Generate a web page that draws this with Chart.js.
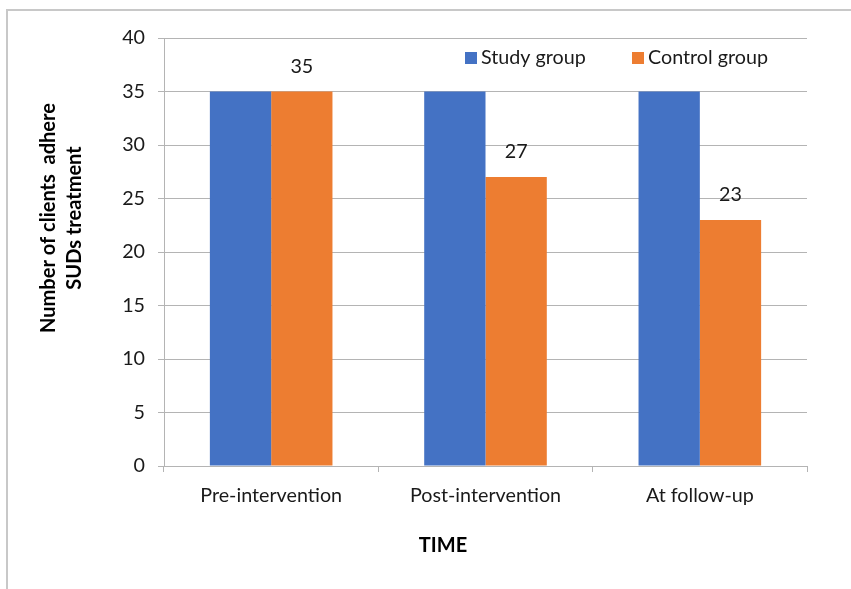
<!DOCTYPE html>
<html>
<head>
<meta charset="utf-8">
<script src="https://cdn.jsdelivr.net/npm/chart.js@4/dist/chart.umd.min.js"></script>
<style>
html,body{margin:0;padding:0;background:#fff;}
canvas{display:block;}
</style>
</head>
<body>
<canvas id="c" width="851" height="589"></canvas>
<script>
const categories = ['Pre-intervention', 'Post-intervention', 'At follow-up'];
const studyGroup = [35, 35, 35];
const controlGroup = [35, 27, 23];
const seriesNames = ['Study group', 'Control group'];
const yTitleLines = ['Number of clients  adhere', 'SUDs treatment'];
const xTitle = 'TIME';

const FONT = 'Lato, "Open Sans", sans-serif';
const mctx = document.createElement('canvas').getContext('2d');
function fitSize(text, target, weight) {
  mctx.font = weight + ' 20px ' + FONT;
  return 20 * target / mctx.measureText(text).width;
}
const baseSize = fitSize('Pre-intervention', 142, 'normal');
const boldSize = fitSize('Number of clients  adhere', 230, 'bold');
const TEXT = '#1a1a1a';
const GRID = '#b4b4b4';

const decorPlugin = {
  id: 'decor',
  beforeDraw(chart) {
    const ctx = chart.ctx;
    ctx.save();
    ctx.fillStyle = '#fff';
    ctx.fillRect(0, 0, chart.width, chart.height);
    ctx.strokeStyle = '#c8c8c8';
    ctx.lineWidth = 2;
    ctx.beginPath();
    ctx.moveTo(7, chart.height);
    ctx.lineTo(7, 10);
    ctx.lineTo(chart.width, 10);
    ctx.stroke();
    ctx.restore();
  },
  afterDatasetsDraw(chart) {
    const ctx = chart.ctx;
    ctx.save();
    // data labels for control group
    const meta = chart.getDatasetMeta(1);
    ctx.font = 'normal ' + baseSize + 'px ' + FONT;
    ctx.fillStyle = TEXT;
    ctx.textAlign = 'center';
    ctx.textBaseline = 'middle';
    meta.data.forEach((el, i) => {
      ctx.fillText(String(chart.data.datasets[1].data[i]), el.x, el.y - 25);
    });
    // legend
    const legendX = [465, 632];
    chart.data.datasets.forEach((ds, i) => {
      ctx.fillStyle = ds.backgroundColor;
      ctx.fillRect(legendX[i], 52, 12, 12);
      ctx.fillStyle = TEXT;
      ctx.textAlign = 'left';
      ctx.fillText(ds.label, legendX[i] + 16, 58);
    });
    // axis titles
    ctx.font = 'bold ' + boldSize + 'px ' + FONT;
    ctx.fillStyle = '#000';
    ctx.textAlign = 'center';
    ctx.fillText(xTitle, 443, 546);
    ctx.translate(62, 218);
    ctx.rotate(-Math.PI / 2);
    ctx.fillText(yTitleLines[0], 0, -13);
    ctx.fillText(yTitleLines[1], 0, 13);
    ctx.restore();
  }
};

new Chart(document.getElementById('c'), {
  type: 'bar',
  data: {
    labels: categories,
    datasets: [
      { label: seriesNames[0], data: studyGroup, backgroundColor: '#4472C4', borderWidth: 0 },
      { label: seriesNames[1], data: controlGroup, backgroundColor: '#ED7D31', borderWidth: 0 }
    ]
  },
  options: {
    responsive: false,
    animation: false,
    devicePixelRatio: 1,
    layout: { padding: { left: 0, top: 38, right: 44, bottom: 0 } },
    plugins: { legend: { display: false }, tooltip: { enabled: false }, title: { display: false } },
    datasets: { bar: { categoryPercentage: 0.572, barPercentage: 1.0 } },
    scales: {
      x: {
        afterFit(s) { s.height = 123; },
        grid: { offset: true, drawOnChartArea: false, drawTicks: true, tickLength: 6, color: GRID },
        border: { color: GRID, width: 1 },
        ticks: { padding: 12, color: TEXT, font: { family: FONT, size: baseSize } }
      },
      y: {
        min: 0, max: 40,
        afterFit(s) { s.width = 164; },
        grid: { color: GRID, tickLength: 6, drawTicks: true },
        border: { color: GRID, width: 1 },
        ticks: { stepSize: 5, padding: 13, color: TEXT, font: { family: FONT, size: baseSize } }
      }
    }
  },
  plugins: [decorPlugin]
});
</script>
</body>
</html>
